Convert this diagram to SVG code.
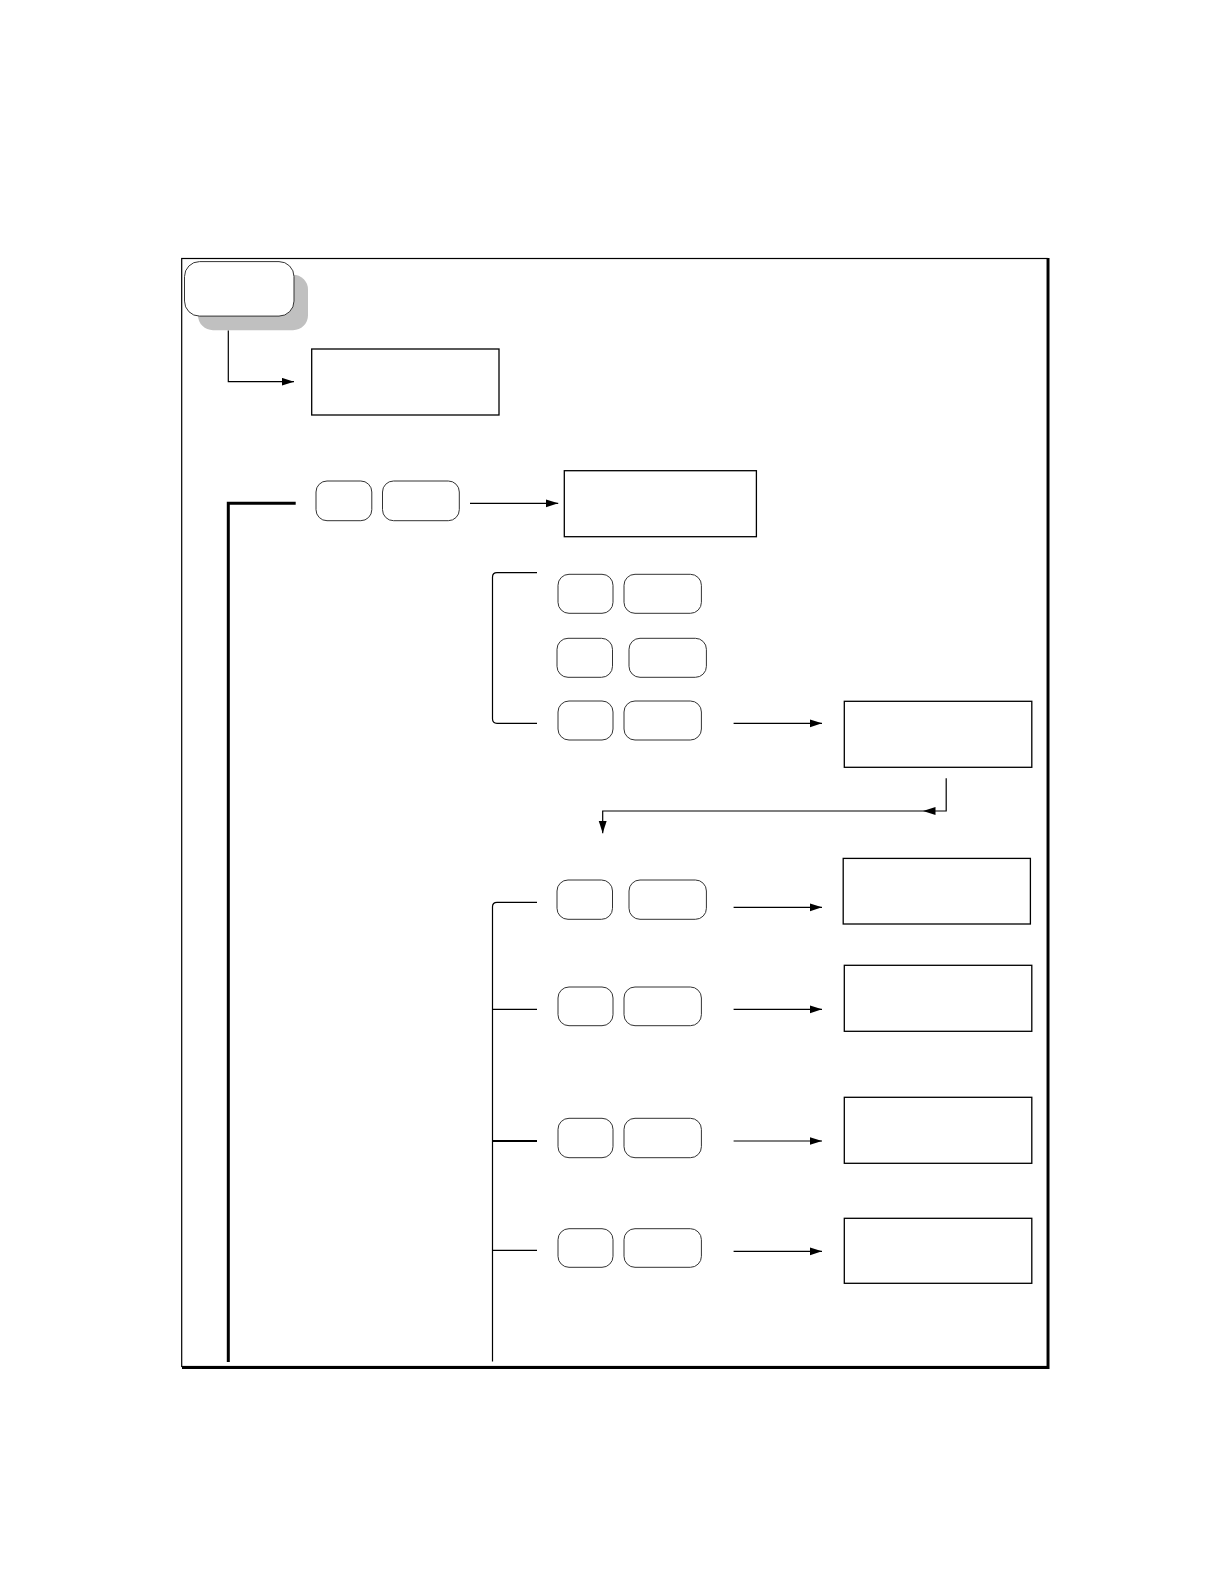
<svg xmlns="http://www.w3.org/2000/svg" width="1224" height="1584" viewBox="0 0 1224 1584">
<style>
.box{fill:#fff;stroke:#000;stroke-width:1.3}
.key{fill:#fff;stroke:#333;stroke-width:1}
.ln{fill:none;stroke:#000;stroke-width:1.2}
.arr{fill:none;stroke:#000;stroke-width:1.2;marker-end:url(#ah)}
</style>
<defs>
<marker id="ah" markerUnits="userSpaceOnUse" markerWidth="13" markerHeight="9" refX="12.5" refY="4" orient="auto">
<path d="M0,0 L12.5,4 L0,8 z" fill="#000"/>
</marker>
</defs>
<rect width="1224" height="1584" fill="#fff"/>
<g id="frame">
<rect x="181.7" y="258.5" width="865.5" height="1108" fill="none" stroke="#000" stroke-width="1.2"/>
<path d="M1048.2,258 V1367.8 H182" fill="none" stroke="#000" stroke-width="2.6"/>
</g>
<g id="start">
<rect x="198" y="274.7" width="110" height="55.5" rx="15" fill="#c0c0c0"/>
<rect x="184.5" y="261.6" width="109.5" height="54.5" rx="15" class="key"/>
</g>
<g id="box0"><rect x="311.7" y="349" width="187.3" height="66" class="box"/></g>
<g id="key0a"><rect x="316" y="481" width="55.8" height="39.7" rx="11" class="key"/></g>
<g id="key0b"><rect x="382.5" y="481" width="76.8" height="39.7" rx="11" class="key"/></g>
<g id="box1"><rect x="564.3" y="470.7" width="192.1" height="66" class="box"/></g>
<g id="key1a"><rect x="558" y="574.3" width="55" height="39" rx="11" class="key"/></g>
<g id="key1b"><rect x="624" y="574.3" width="77.4" height="39" rx="11" class="key"/></g>
<g id="key2a"><rect x="557" y="638.3" width="55.5" height="39" rx="11" class="key"/></g>
<g id="key2b"><rect x="629" y="638.3" width="77.4" height="39" rx="11" class="key"/></g>
<g id="key3a"><rect x="558" y="701" width="55" height="39" rx="11" class="key"/></g>
<g id="key3b"><rect x="624" y="701" width="77.4" height="39" rx="11" class="key"/></g>
<g id="box3"><rect x="844.3" y="701.3" width="187.5" height="66" class="box"/></g>
<g id="key4a"><rect x="557" y="880" width="55.5" height="39.3" rx="11" class="key"/></g>
<g id="key4b"><rect x="629" y="880" width="77.4" height="39.3" rx="11" class="key"/></g>
<g id="box4"><rect x="843.2" y="858.4" width="187.2" height="65.6" class="box"/></g>
<g id="key5a"><rect x="558" y="987" width="55" height="38.7" rx="11" class="key"/></g>
<g id="key5b"><rect x="624" y="987" width="77.4" height="38.7" rx="11" class="key"/></g>
<g id="box5"><rect x="844.3" y="965.3" width="187.5" height="66" class="box"/></g>
<g id="key6a"><rect x="558" y="1118.3" width="55" height="39.4" rx="11" class="key"/></g>
<g id="key6b"><rect x="624" y="1118.3" width="77.4" height="39.4" rx="11" class="key"/></g>
<g id="box6"><rect x="844.3" y="1097.3" width="187.5" height="66" class="box"/></g>
<g id="key7a"><rect x="558" y="1228.7" width="55" height="38.6" rx="11" class="key"/></g>
<g id="key7b"><rect x="624" y="1228.7" width="77.4" height="38.6" rx="11" class="key"/></g>
<g id="box7"><rect x="844.3" y="1218.3" width="187.5" height="65" class="box"/></g>
<g id="connectors">
<path class="arr" d="M228.3,330.5 V381.7 H294"/>
<path d="M295.7,503.3 H228.3 V1362" fill="none" stroke="#000" stroke-width="3"/>
<path class="arr" d="M470,503.3 H558.2"/>
<path class="ln" d="M537,572.7 H497 Q492.5,572.7 492.5,577.2 V718.8 Q492.5,723.3 497,723.3 H537"/>
<path class="arr" d="M733.6,723.3 H822"/>
<path class="arr" d="M946.2,778.3 V811 H923"/>
<path class="arr" d="M923,811 H602.7 V833.3"/>
<path class="ln" d="M537,902.3 H497 Q492.5,902.3 492.5,906.8 V1361.5"/>
<path class="ln" d="M492.5,1009.3 H537"/>
<path d="M492.5,1141 H537" fill="none" stroke="#000" stroke-width="2"/>
<path class="ln" d="M492.5,1250.3 H537"/>
<path class="arr" d="M733.6,907.3 H822"/>
<path class="arr" d="M733.6,1009.3 H822"/>
<path class="arr" d="M733.6,1141 H822"/>
<path class="arr" d="M733.6,1251.3 H822"/>
</g>
</svg>
